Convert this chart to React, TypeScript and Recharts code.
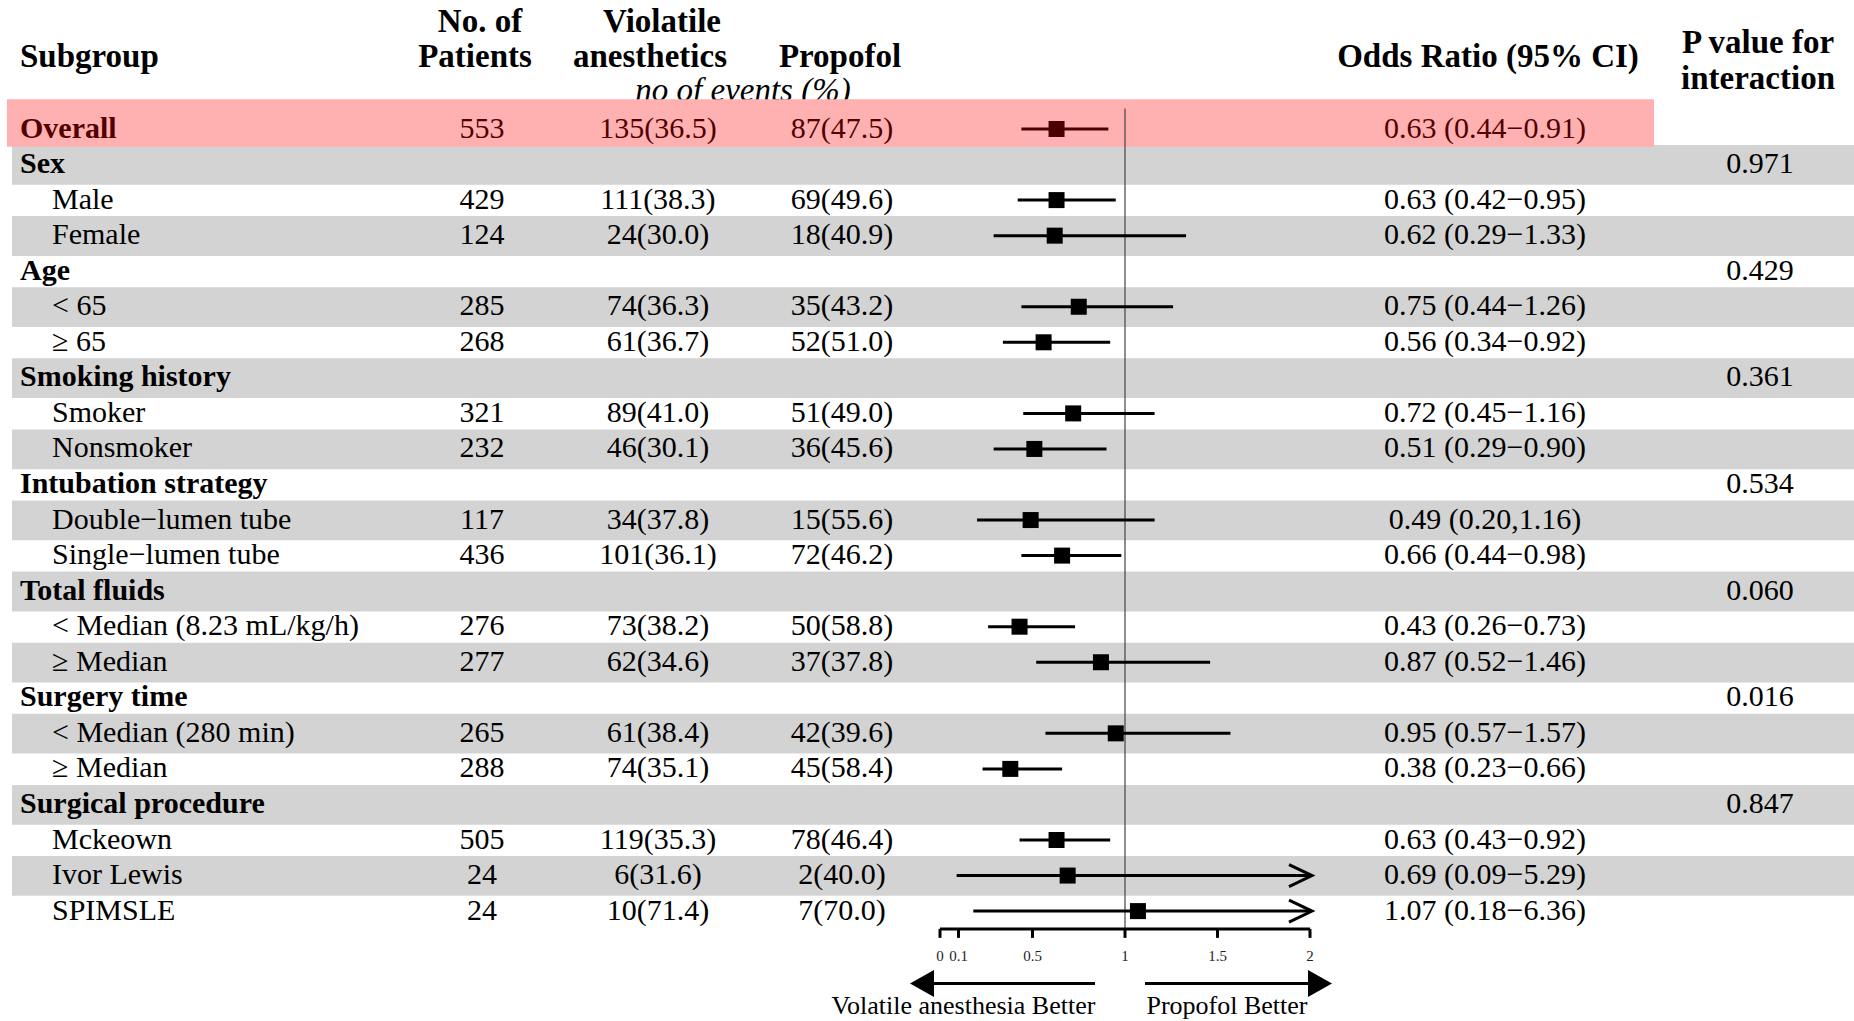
import React from "react";
import {
  ComposedChart,
  Scatter,
  XAxis,
  YAxis,
  ErrorBar,
  ReferenceArea,
  ReferenceLine,
  Customized,
} from "recharts";

const subgroups = [
  "Overall",
  "Sex",
  "Male",
  "Female",
  "Age",
  "< 65",
  "≥ 65",
  "Smoking history",
  "Smoker",
  "Nonsmoker",
  "Intubation strategy",
  "Double−lumen tube",
  "Single−lumen tube",
  "Total fluids",
  "< Median (8.23 mL/kg/h)",
  "≥ Median",
  "Surgery time",
  "< Median (280 min)",
  "≥ Median",
  "Surgical procedure",
  "Mckeown",
  "Ivor Lewis",
  "SPIMSLE",
];
const groupRows = [0, 1, 4, 7, 10, 13, 16, 19];

const patients = ["553", "", "429", "124", "", "285", "268", "", "321", "232", "", "117", "436", "", "276", "277", "", "265", "288", "", "505", "24", "24"];
const volatileEvents = ["135(36.5)", "", "111(38.3)", "24(30.0)", "", "74(36.3)", "61(36.7)", "", "89(41.0)", "46(30.1)", "", "34(37.8)", "101(36.1)", "", "73(38.2)", "62(34.6)", "", "61(38.4)", "74(35.1)", "", "119(35.3)", "6(31.6)", "10(71.4)"];
const propofolEvents = ["87(47.5)", "", "69(49.6)", "18(40.9)", "", "35(43.2)", "52(51.0)", "", "51(49.0)", "36(45.6)", "", "15(55.6)", "72(46.2)", "", "50(58.8)", "37(37.8)", "", "42(39.6)", "45(58.4)", "", "78(46.4)", "2(40.0)", "7(70.0)"];

const oddsRatio = [0.63, null, 0.63, 0.62, null, 0.75, 0.56, null, 0.72, 0.51, null, 0.49, 0.66, null, 0.43, 0.87, null, 0.95, 0.38, null, 0.63, 0.69, 1.07];
const ciLow = [0.44, null, 0.42, 0.29, null, 0.44, 0.34, null, 0.45, 0.29, null, 0.2, 0.44, null, 0.26, 0.52, null, 0.57, 0.23, null, 0.43, 0.09, 0.18];
const ciHigh = [0.91, null, 0.95, 1.33, null, 1.26, 0.92, null, 1.16, 0.9, null, 1.16, 0.98, null, 0.73, 1.46, null, 1.57, 0.66, null, 0.92, 5.29, 6.36];
const ciSeparator = ["−", "", "−", "−", "", "−", "−", "", "−", "−", "", ",", "−", "", "−", "−", "", "−", "−", "", "−", "−", "−"];

const pInteraction = ["", "0.971", "", "", "0.429", "", "", "0.361", "", "", "0.534", "", "", "0.060", "", "", "0.016", "", "", "0.847", "", "", ""];

const xTicks = [0, 0.1, 0.5, 1, 1.5, 2];
const X_MAX = 2;

// page geometry
const W = 1854;
const H = 1021;
const ROW0 = 129;
const ROWH = 35.55;
const N = subgroups.length;
const PLOT_TOP = ROW0 - ROWH / 2;
const PLOT_BOTTOM = ROW0 + (N - 0.5) * ROWH;
const FOREST_LEFT = 940;
const FOREST_RIGHT = 1310;
const X_AXIS_H = 30;

const SERIF = "'Liberation Serif', 'Times New Roman', 'DejaVu Serif', serif";
const DARK_RED = "#520000";
const GRAY_BAND = "#d3d3d3";
const PINK_BAND = "#ffb0b0";

const COL = { group: 20, item: 52, patients: 482, volatile: 658, propofol: 842, or: 1485, p: 1760 };

type Cell = { x: number; row: number; text: string; bold?: boolean; color: string };

const rowColor = (i: number) => (i === 0 ? DARK_RED : "#000");

const labelCells: Cell[] = subgroups.map((s, i) => ({
  x: groupRows.includes(i) ? COL.group : COL.item,
  row: i,
  text: s,
  bold: groupRows.includes(i),
  color: rowColor(i),
}));

const column = (values: string[], x: number): Cell[] =>
  values
    .map((text, i) => ({ x, row: i, text, color: rowColor(i) }))
    .filter((c) => c.text !== "");

const orCells: Cell[] = oddsRatio
  .map((v, i) =>
    v == null
      ? null
      : {
          x: COL.or,
          row: i,
          text: `${v.toFixed(2)} (${(ciLow[i] as number).toFixed(2)}${ciSeparator[i]}${(ciHigh[i] as number).toFixed(2)})`,
          color: rowColor(i),
        }
  )
  .filter((c): c is Cell => c !== null);

const forestPoints = oddsRatio
  .map((v, i) => {
    if (v == null) return null;
    const lo = ciLow[i] as number;
    const hi = Math.min(ciHigh[i] as number, X_MAX);
    return { x: v, row: i, ci: [v - lo, hi - v] };
  })
  .filter((p): p is { x: number; row: number; ci: number[] } => p !== null);

const overallPoint = forestPoints.filter((p) => p.row === 0);
const subgroupPoints = forestPoints.filter((p) => p.row !== 0);
const clippedPoints = oddsRatio
  .map((v, i) => (v != null && (ciHigh[i] as number) > X_MAX ? { x: X_MAX, row: i } : null))
  .filter((p) => p !== null);

const grayRows = subgroups.map((_, i) => i).filter((i) => i % 2 === 1);

const textShape = (anchor: "start" | "middle") => (props: any) => {
  const { cx, cy, payload } = props;
  return (
    <text
      x={cx}
      y={cy - 2}
      textAnchor={anchor}
      dominantBaseline="central"
      fontFamily={SERIF}
      fontSize={30}
      fontWeight={payload.bold ? "bold" : "normal"}
      fill={payload.color}
    >
      {payload.text}
    </text>
  );
};

const squareShape = (color: string) => (props: any) => (
  <rect x={props.cx - 8} y={props.cy - 8} width={16} height={16} fill={color} />
);

const chevronShape = (props: any) => {
  const { cx, cy } = props;
  return (
    <path
      d={`M${cx - 21},${cy - 11} L${cx + 2},${cy} L${cx - 21},${cy + 11}`}
      fill="none"
      stroke="#000"
      strokeWidth={3}
    />
  );
};

const Headers = () => {
  const head = { fontFamily: SERIF, fontSize: 33, fontWeight: "bold" as const, dominantBaseline: "central" as const, fill: "#000" };
  return (
    <g>
      <text x={20} y={56} {...head}>Subgroup</text>
      <text x={480} y={21} textAnchor="middle" {...head}>No. of</text>
      <text x={475} y={56} textAnchor="middle" {...head}>Patients</text>
      <text x={662} y={21} textAnchor="middle" {...head}>Violatile</text>
      <text x={650} y={56} textAnchor="middle" {...head}>anesthetics</text>
      <text x={840} y={56} textAnchor="middle" {...head}>Propofol</text>
      <text x={1488} y={56} textAnchor="middle" {...head}>Odds Ratio (95% CI)</text>
      <text x={1758} y={42} textAnchor="middle" {...head}>P value for</text>
      <text x={1758} y={78} textAnchor="middle" {...head}>interaction</text>
      <text
        x={743}
        y={90}
        textAnchor="middle"
        dominantBaseline="central"
        fontFamily={SERIF}
        fontSize={33}
        fontStyle="italic"
      >
        no of events (%)
      </text>
    </g>
  );
};

const Footer = () => (
  <g fontFamily={SERIF}>
    <line x1={930} y1={983.5} x2={1095} y2={983.5} stroke="#000" strokeWidth={3} />
    <polygon points="910,983.5 934,970 934,997" fill="#000" />
    <line x1={1145} y1={983.5} x2={1312} y2={983.5} stroke="#000" strokeWidth={3} />
    <polygon points="1332,983.5 1308,970 1308,997" fill="#000" />
    <text x={963.5} y={1005} textAnchor="middle" dominantBaseline="central" fontSize={26}>
      Volatile anesthesia Better
    </text>
    <text x={1227} y={1005} textAnchor="middle" dominantBaseline="central" fontSize={26}>
      Propofol Better
    </text>
  </g>
);

export default function App() {
  return (
    <div style={{ position: "absolute", left: 0, top: 0, width: W, height: H, background: "#fff" }}>
      {/* table layer: bands, headers and text columns */}
      <div style={{ position: "absolute", left: 0, top: 0 }}>
        <ComposedChart
          width={W}
          height={H}
          margin={{ top: PLOT_TOP, bottom: H - PLOT_BOTTOM, left: 0, right: 0 }}
        >
          <XAxis type="number" dataKey="x" domain={[0, W]} hide />
          <YAxis type="number" dataKey="row" domain={[-0.5, N - 0.5]} reversed hide />
          {grayRows.map((i) => (
            <ReferenceArea
              key={i}
              x1={12}
              x2={W}
              y1={i - 0.55}
              y2={i + 0.57}
              fill={GRAY_BAND}
              fillOpacity={1}
              stroke="none"
              ifOverflow="visible"
            />
          ))}
          <ReferenceArea
            x1={7}
            x2={1654}
            y1={-0.84}
            y2={0.5}
            fill={PINK_BAND}
            fillOpacity={1}
            stroke="none"
            ifOverflow="visible"
          />
          <Customized component={Headers} />
          <Scatter data={labelCells} shape={textShape("start")} isAnimationActive={false} />
          <Scatter data={column(patients, COL.patients)} shape={textShape("middle")} isAnimationActive={false} />
          <Scatter data={column(volatileEvents, COL.volatile)} shape={textShape("middle")} isAnimationActive={false} />
          <Scatter data={column(propofolEvents, COL.propofol)} shape={textShape("middle")} isAnimationActive={false} />
          <Scatter data={orCells} shape={textShape("middle")} isAnimationActive={false} />
          <Scatter data={column(pInteraction, COL.p)} shape={textShape("middle")} isAnimationActive={false} />
        </ComposedChart>
      </div>

      {/* forest plot layer; the x axis band sits below the rows */}
      <div style={{ position: "absolute", left: 0, top: 0 }}>
        <ComposedChart
          width={W}
          height={H}
          margin={{
            top: PLOT_TOP,
            bottom: H - PLOT_BOTTOM - X_AXIS_H,
            left: FOREST_LEFT,
            right: W - FOREST_RIGHT,
          }}
        >
          <XAxis
            type="number"
            dataKey="x"
            domain={[0, X_MAX]}
            ticks={xTicks}
            interval={0}
            height={X_AXIS_H}
            tickSize={9}
            tickMargin={12}
            axisLine={{ stroke: "#000", strokeWidth: 3 }}
            tickLine={{ stroke: "#000", strokeWidth: 3 }}
            tick={{ fontSize: 15, fill: "#222", fontFamily: SERIF }}
          />
          <YAxis type="number" dataKey="row" domain={[-0.5, N - 0.5]} reversed hide />
          <ReferenceLine
            segment={[
              { x: 1, y: -0.58 },
              { x: 1, y: N - 0.5 },
            ]}
            stroke="#444"
            strokeWidth={1.2}
            ifOverflow="visible"
          />
          <Scatter data={subgroupPoints} shape={squareShape("#000")} isAnimationActive={false}>
            <ErrorBar dataKey="ci" direction="x" width={0} stroke="#000" strokeWidth={3} />
          </Scatter>
          <Scatter data={overallPoint} shape={squareShape("#4a0000")} isAnimationActive={false}>
            <ErrorBar dataKey="ci" direction="x" width={0} stroke="#4a0000" strokeWidth={3} />
          </Scatter>
          <Scatter data={clippedPoints} shape={chevronShape} isAnimationActive={false} />
          <Customized component={Footer} />
        </ComposedChart>
      </div>
    </div>
  );
}
